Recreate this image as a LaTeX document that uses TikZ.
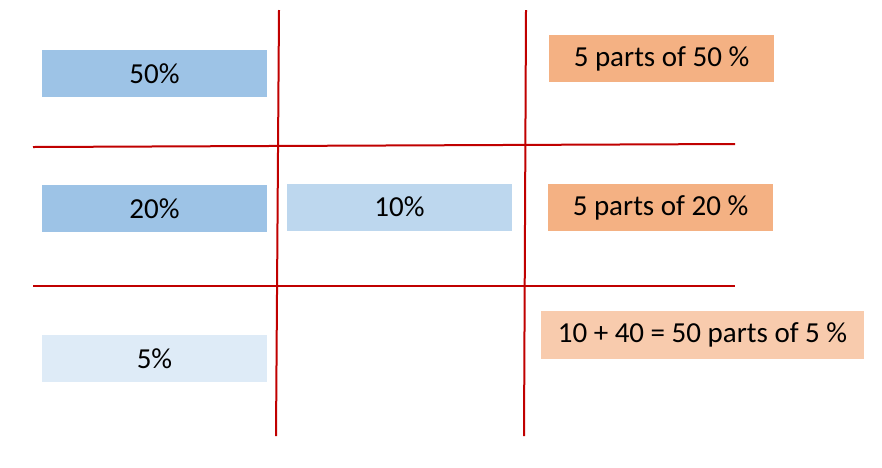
\documentclass[tikz,border=0pt]{standalone}
\usepackage{fontspec}
\setmainfont{Carlito}
\usepackage{tikz}
\usetikzlibrary{positioning}
\usepackage{xcolor}
\definecolor{blueA}{HTML}{9DC3E6}
\definecolor{blueB}{HTML}{BDD7EE}
\definecolor{blueC}{HTML}{DEEBF7}
\definecolor{orangeA}{HTML}{F4B183}
\definecolor{orangeB}{HTML}{F8CBAD}
\definecolor{gridred}{HTML}{C00000}
\tikzset{
	cell/.style={%
		fill=#1, inner sep=0pt,
		minimum width=225pt,
		minimum height=47pt,
		font=\fontsize{29}{32}\selectfont
	},
	cell/.default=blueA,
	gridline/.style={draw=gridred, line width=2pt}
}

\begin{document}
\begin{tikzpicture}[x=1pt,y=-1pt]
		% Frame of the figure
		\useasboundingbox (0,0) rectangle (882,467);
		
		% Red grid
		\draw[gridline] (279,10) -- (276,436);
		\draw[gridline] (526,10) -- (524,436);
		\draw[gridline] (33,147) -- (735,144);
		\draw[gridline] (33,286) -- (735,286);
		
		% Left column
		\node[cell] (fifty) at (154.5,73.5) {50\%};
		\node[cell] (twenty) at (154.5,208.5) {20\%};
		\node[cell=blueC] (five) at (154.5,358.5) {5\%};
		
		% Middle column
		\node[cell=blueB] (ten) at (399.5,207) {10\%};
		
		% Right column
		\node[cell=orangeA] (partsfifty) at (661.5,58.5) {5 parts of 50 \%};
		\node[cell=orangeA] (partstwenty) at (660.5,207.5) {5 parts of 20 \%};
		\node[cell=orangeB,minimum width=323pt,minimum height=48pt] (partsfive) at (702.5,335) {10 + 40 = 50 parts of 5 \%};
		
\end{tikzpicture}
\end{document}
